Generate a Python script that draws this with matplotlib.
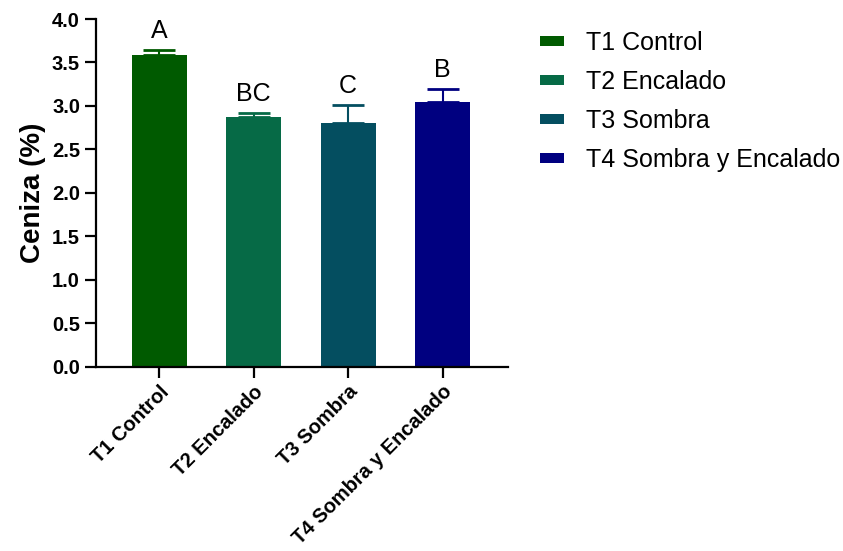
import matplotlib
matplotlib.use("Agg")
import matplotlib.pyplot as plt
import numpy as np

# datos
tratamientos = ["T1 Control", "T2 Encalado", "T3 Sombra", "T4 Sombra y Encalado"]
ceniza = [3.59, 2.87, 2.80, 3.05]
error = [0.05, 0.05, 0.21, 0.14]
letras = ["A", "BC", "C", "B"]
colores = ["#005A00", "#066A46", "#044E60", "#000080"]

plt.rcParams['font.family'] = ['Liberation Sans', 'DejaVu Sans']

fig = plt.figure(figsize=(8.43, 5.51), dpi=100)
ax = fig.add_axes([0.1139, 0.3345, 0.4887, 0.631])

x = np.arange(len(tratamientos))
barras = ax.bar(x, ceniza, 0.58, color=colores, label=tratamientos, zorder=2)
for i in range(len(x)):
    ax.errorbar(x[i], ceniza[i], yerr=[[0], [error[i]]], fmt='none',
                ecolor=colores[i], elinewidth=1.5, capsize=11.5, capthick=2, zorder=1)
    ax.text(x[i], ceniza[i] + error[i] + 0.08, letras[i], ha='center', va='bottom',
            fontsize=18)

ax.set_xlim(-0.667, 3.69)
ax.set_ylim(0, 4.0)
ax.set_yticks(np.arange(0, 4.01, 0.5))
ax.set_yticklabels(['{:.1f}'.format(v) for v in np.arange(0, 4.01, 0.5)],
                   fontsize=14.5, fontweight='bold')
ax.set_xticks(x)
ax.set_xticklabels(tratamientos, rotation=45, ha='right', rotation_mode='anchor',
                   fontsize=14.5, fontweight='bold')
ax.set_ylabel('Ceniza (%)', fontsize=20, fontweight='bold', labelpad=4)

for s in ['top', 'right']:
    ax.spines[s].set_visible(False)
for s in ['left', 'bottom']:
    ax.spines[s].set_linewidth(1.6)
ax.tick_params(axis='both', length=8, width=1.6)
ax.tick_params(axis='x', pad=3)

ax.legend(handles=barras, labels=tratamientos, loc='upper left',
          bbox_to_anchor=(1.078, 0.965), frameon=False, fontsize=18,
          borderpad=0, borderaxespad=0,
          handlelength=0.95, handleheight=0.25, labelspacing=0.6, handletextpad=0.9)

plt.savefig('out.png', dpi=100)
